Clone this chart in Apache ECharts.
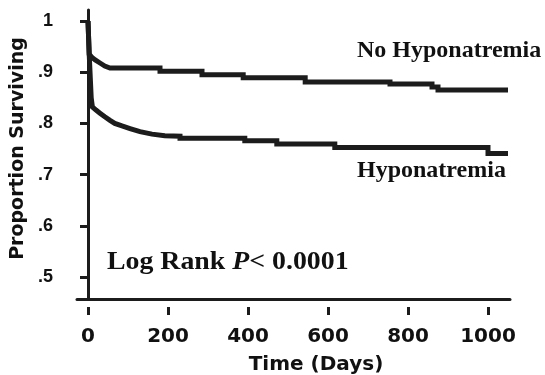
<!DOCTYPE html>
<html>
<head>
<meta charset="utf-8">
<script src="https://cdn.jsdelivr.net/npm/echarts@6/dist/echarts.min.js"></script>
<style>html,body{margin:0;padding:0;background:#fff}#c{width:545px;height:375px}</style>
</head>
<body>
<div id="c"></div>
<script>
// Kaplan-Meier survival data (time in days, proportion surviving).
// A repeated day marks a vertical step of the survival curve.
var noHypoDays = [0, 3, 10, 18, 30, 42, 55, 180, 180, 285, 285, 388, 388, 543, 543, 755, 755, 860, 860, 875, 875, 1050];
var noHypoSurv = [1.0, 0.935, 0.929, 0.924, 0.918, 0.912, 0.908, 0.908, 0.902, 0.902, 0.895, 0.895, 0.889, 0.889, 0.881, 0.881, 0.877, 0.877, 0.871, 0.871, 0.865, 0.865];
var hypoDays = [0, 3, 8, 11, 20, 30, 42, 55, 67, 85, 105, 130, 160, 192, 230, 230, 392, 392, 472, 472, 617, 617, 1000, 1000, 1050];
var hypoSurv = [1.0, 0.935, 0.85, 0.832, 0.826, 0.820, 0.813, 0.806, 0.800, 0.795, 0.790, 0.784, 0.779, 0.776, 0.775, 0.771, 0.771, 0.766, 0.766, 0.760, 0.760, 0.753, 0.753, 0.741, 0.741];
var xTicks = [0, 200, 400, 600, 800, 1000];
var yTicks = [0.5, 0.6, 0.7, 0.8, 0.9, 1.0];
var yTickLabels = ['.5', '.6', '.7', '.8', '.9', '1'];
var seriesNames = ['No Hyponatremia', 'Hyponatremia'];
var annotation = {pre: 'Log Rank ', p: 'P', post: '< 0.0001'};

function pairs(xs, ys) { return xs.map(function (x, i) { return [x, ys[i]]; }); }

var chart = echarts.init(document.getElementById('c'), null, {renderer: 'canvas'});
var ink = '#1c1c1c';
var xMin = -27.5, xMax = 1055, yMin = 0.457, yMax = 1.0215;

chart.setOption({
  animation: false,
  backgroundColor: '#fff',
  grid: {left: 77, right: 35, top: 10, bottom: 76, containLabel: false, outerBoundsMode: 'none'},
  xAxis: [
    {type: 'value', min: xMin, max: xMax, position: 'bottom',
     axisLine: {show: true, lineStyle: {color: ink, width: 3}},
     axisTick: {show: false}, axisLabel: {show: false}, splitLine: {show: false}},
    {type: 'value', min: xMin, max: xMax, position: 'bottom', offset: 8,
     axisLine: {show: false},
     axisTick: {show: true, length: 8, lineStyle: {color: ink, width: 3}, customValues: xTicks},
     axisLabel: {show: true, customValues: xTicks, margin: 20, color: '#111',
       fontFamily: 'DejaVu Sans', fontWeight: 'bold', fontSize: 20,
       formatter: function (v) { return String(Math.round(v)); }},
     splitLine: {show: false},
     name: 'Time (Days)', nameLocation: 'middle', nameGap: 48,
     nameTextStyle: {color: '#111', fontFamily: 'DejaVu Sans', fontWeight: 'bold', fontSize: 20, padding: [0, 0, 0, 45]}}
  ],
  yAxis: {
    type: 'value', min: yMin, max: yMax,
    axisLine: {show: true, lineStyle: {color: ink, width: 3}},
    axisTick: {show: true, length: 8, lineStyle: {color: ink, width: 3}, customValues: yTicks},
    axisLabel: {show: true, customValues: yTicks, margin: 24, color: '#111',
      fontFamily: 'Liberation Sans', fontWeight: 'bold', fontSize: 18,
      formatter: function (v) { var i = yTicks.findIndex(function (t) { return Math.abs(t - v) < 1e-6; }); return i >= 0 ? yTickLabels[i] : ''; }},
    splitLine: {show: false},
    name: 'Proportion Surviving', nameLocation: 'middle', nameGap: 45,
    nameTextStyle: {color: '#111', fontFamily: 'DejaVu Sans', fontWeight: 'bold', fontSize: 19, padding: [0, 0, 0, 12]}
  },
  series: [
    {name: seriesNames[0], type: 'line', xAxisIndex: 0, showSymbol: false, symbol: 'none',
     lineStyle: {color: ink, width: 5, join: 'miter'}, data: pairs(noHypoDays, noHypoSurv)},
    {name: seriesNames[1], type: 'line', xAxisIndex: 0, showSymbol: false, symbol: 'none',
     lineStyle: {color: ink, width: 5, join: 'miter'}, data: pairs(hypoDays, hypoSurv)}
  ],
  graphic: [
    {type: 'text', left: 357, top: 39, style: {text: seriesNames[0], fill: '#111',
      font: 'bold 24px "Liberation Serif"'}},
    {type: 'text', left: 357, top: 159, style: {text: seriesNames[1], fill: '#111',
      font: 'bold 24px "Liberation Serif"'}},
    {type: 'text', x: 107, y: 249, scaleX: 1.07, style: {
      text: '{a|' + annotation.pre + '}{b|' + annotation.p + '}{a|' + annotation.post + '}',
      rich: {
        a: {fontFamily: 'Liberation Serif', fontWeight: 'bold', fontSize: 26, fill: '#111'},
        b: {fontFamily: 'Liberation Serif', fontWeight: 'bold', fontStyle: 'italic', fontSize: 26, fill: '#111'}
      }}}
  ]
});
</script>
</body>
</html>
